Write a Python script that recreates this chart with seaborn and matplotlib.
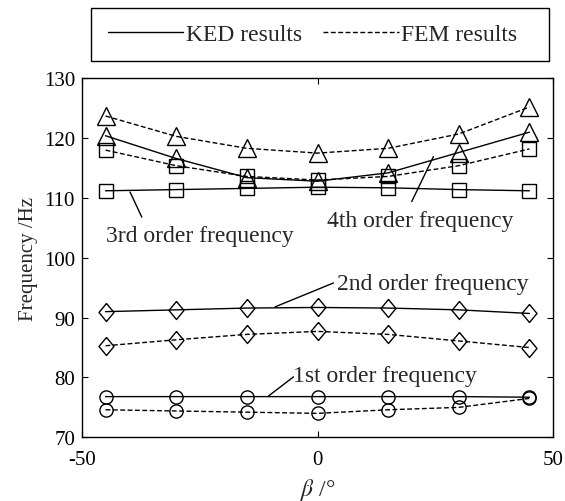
import matplotlib
matplotlib.use('Agg')
import matplotlib.pyplot as plt
from matplotlib.lines import Line2D
from matplotlib.patches import Rectangle
import seaborn as sns
import pandas as pd

# blade angle beta in degrees
beta = [-45, -30, -15, 0, 15, 30, 45]

# natural frequencies in Hz, KED model vs FEM model
ked_1st = [76.8, 76.8, 76.8, 76.8, 76.8, 76.8, 76.7]
fem_1st = [74.6, 74.4, 74.2, 74.0, 74.6, 75.0, 76.5]
ked_2nd = [91.0, 91.3, 91.6, 91.7, 91.6, 91.3, 90.7]
fem_2nd = [85.3, 86.3, 87.2, 87.7, 87.2, 86.1, 85.0]
ked_3rd = [111.2, 111.4, 111.6, 111.8, 111.7, 111.4, 111.2]
fem_3rd = [118.0, 115.4, 113.6, 113.0, 113.6, 115.4, 118.2]
ked_4th = [120.4, 116.6, 113.4, 112.8, 114.2, 117.6, 121.0]
fem_4th = [123.7, 120.3, 118.3, 117.5, 118.3, 120.7, 125.2]

series = [
    ('1st', 'KED', ked_1st), ('1st', 'FEM', fem_1st),
    ('2nd', 'KED', ked_2nd), ('2nd', 'FEM', fem_2nd),
    ('3rd', 'KED', ked_3rd), ('3rd', 'FEM', fem_3rd),
    ('4th', 'KED', ked_4th), ('4th', 'FEM', fem_4th),
]
rows = []
for order, method, vals in series:
    for b, v in zip(beta, vals):
        rows.append({'beta': b, 'freq': v, 'order': order, 'method': method})
df = pd.DataFrame(rows)

sns.set_theme(style='ticks')
plt.rcParams['font.family'] = ['Liberation Serif', 'DejaVu Serif']
plt.rcParams['mathtext.fontset'] = 'stix'
plt.rcParams['axes.unicode_minus'] = False

fig = plt.figure(figsize=(5.65, 5.02), dpi=100)
ax = fig.add_axes([0.1451, 0.1269, 0.8337, 0.7151])

diamond = [(0, 1), (0.83, 0), (0, -1), (-0.83, 0), (0, 1)]
markers = {'1st': ('o', 9.5), '2nd': (diamond, 13), '3rd': ('s', 9.5), '4th': ('^', 12.5)}
styles = {'KED': '-', 'FEM': (0, (3.5, 1.8))}

for (order, method), grp in df.groupby(['order', 'method']):
    m, ms = markers[order]
    sns.lineplot(data=grp, x='beta', y='freq', ax=ax, color='black',
                 linestyle=styles[method], linewidth=1.0, marker=m,
                 markersize=ms, markerfacecolor='none', markeredgecolor='black',
                 markeredgewidth=1.0)

ax.set_xlim(-50, 50)
ax.set_ylim(70, 130)
ax.set_xticks([-50, 0, 50])
ax.set_yticks(range(70, 131, 10))
ax.tick_params(direction='in', top=True, right=True, labelsize=15,
               length=4, width=0.8, colors='black')
ax.tick_params(axis='x', pad=9)
ax.tick_params(axis='y', pad=5)
for s in ax.spines.values():
    s.set_linewidth(1.0)
    s.set_color('black')
ax.set_xlabel(r'$\beta$ /°', fontsize=17, labelpad=5)
ax.set_ylabel('Frequency /Hz', fontsize=15, labelpad=4)

# leader lines and labels for each mode
notes = [
    ('3rd order frequency', (-39.8, 111.0), (-37.3, 106.8), (-44.8, 103.7)),
    ('4th order frequency', (24.6, 116.9), (20.0, 109.4), (2.0, 106.3)),
    ('2nd order frequency', (-9.0, 91.8), (3.4, 95.8), (4.1, 95.7)),
    ('1st order frequency', (-10.4, 76.9), (-5.1, 80.1), (-5.2, 80.3)),
]
for txt, p0, p1, pt in notes:
    ax.plot([p0[0], p1[0]], [p0[1], p1[1]], color='black', linewidth=1.0)
    ax.text(pt[0], pt[1], txt, fontsize=17, ha='left', va='center')

# legend box above the axes
fig.patches.append(Rectangle((0.161, 0.8765), 0.811, 0.1055, transform=fig.transFigure,
                             fill=False, edgecolor='black', linewidth=1.0))
handles = [Line2D([], [], color='black', linestyle='-', linewidth=1.0),
           Line2D([], [], color='black', linestyle=(0, (3.5, 1.8)), linewidth=1.0)]
fig.legend(handles, ['KED results', 'FEM results'], loc='center',
           bbox_to_anchor=(0.553, 0.929), ncol=2, frameon=False, fontsize=17,
           handlelength=3.2, handletextpad=0.1, columnspacing=0.9)

fig.savefig('out.png', dpi=100)
